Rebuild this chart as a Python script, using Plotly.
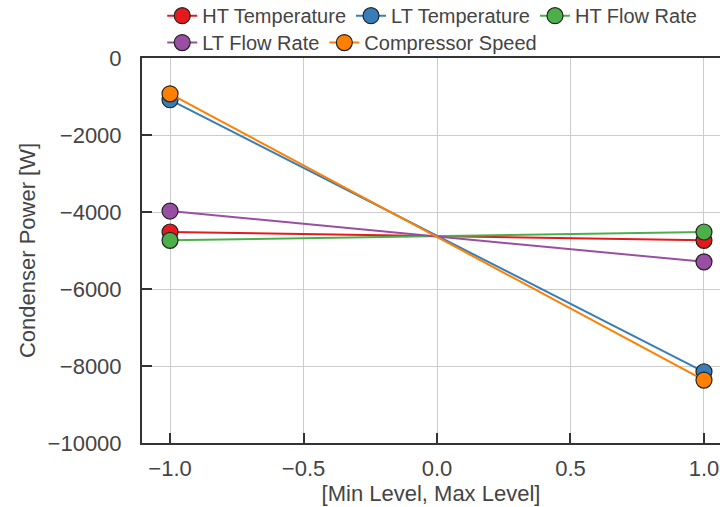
import plotly.graph_objects as go

levels = [-1.0, 1.0]
series_names = ["HT Temperature", "LT Temperature", "HT Flow Rate", "LT Flow Rate", "Compressor Speed"]
ht_temperature = [-4520, -4735]
lt_temperature = [-1085, -8150]
ht_flow_rate = [-4735, -4520]
lt_flow_rate = [-3975, -5295]
compressor_speed = [-930, -8365]
series_values = [ht_temperature, lt_temperature, ht_flow_rate, lt_flow_rate, compressor_speed]
colors = ["#e41a1c", "#377eb8", "#4daf4a", "#984ea3", "#ff7f00"]
legend_ids = ["legend", "legend", "legend", "legend2", "legend2"]
y_ticks = [0, -2000, -4000, -6000, -8000, -10000]
x_ticks = [-1.0, -0.5, 0.0, 0.5, 1.0]
x_tick_labels = ["\u22121.0", "\u22120.5", "0.0", "0.5", "1.0"]
y_tick_labels = ["0", "\u22122000", "\u22124000", "\u22126000", "\u22128000", "\u221210000"]

FONT = "Liberation Sans, Arial, sans-serif"
TXT = "#444444"
AX = 22
LEG = 20

fig = go.Figure()
for name, vals, col, lg in zip(series_names, series_values, colors, legend_ids):
    fig.add_trace(go.Scatter(
        x=levels, y=vals, name=name, mode="lines+markers",
        line=dict(color=col, width=2),
        marker=dict(color=col, size=16, line=dict(color="#222222", width=1.2)),
        legend=lg,
    ))

fig.update_layout(
    width=720, height=507,
    margin=dict(l=142, r=0, t=58, b=64, pad=0, autoexpand=False),
    paper_bgcolor="white", plot_bgcolor="white",
    font=dict(family=FONT, size=AX, color=TXT),
    legend=dict(orientation="h", x=0.035, xanchor="left", y=1.11, yanchor="middle",
                font=dict(family=FONT, size=LEG, color=TXT), bgcolor="rgba(0,0,0,0)",
                itemwidth=30, tracegroupgap=0),
    legend2=dict(orientation="h", x=0.035, xanchor="left", y=1.04, yanchor="middle",
                 font=dict(family=FONT, size=LEG, color=TXT), bgcolor="rgba(0,0,0,0)",
                 itemwidth=30, tracegroupgap=0),
    xaxis=dict(
        range=[-1.105, 1.06], tickmode="array", tickvals=x_ticks, ticktext=x_tick_labels,
        ticks="inside", ticklen=10, tickcolor="#333333", tickwidth=1.5,
        showline=True, linecolor="#333333", linewidth=2, mirror=True,
        showgrid=True, gridcolor="#cccccc", gridwidth=1, zeroline=False,
        ticklabelstandoff=5, automargin=False,
        title=dict(text="[Min Level, Max Level]", font=dict(size=AX, color=TXT), standoff=2),
        tickfont=dict(size=AX, color=TXT),
    ),
    yaxis=dict(
        range=[-10000, 0], tickmode="array", tickvals=y_ticks, ticktext=y_tick_labels,
        ticks="inside", ticklen=10, tickcolor="#333333", tickwidth=1.5,
        showline=True, linecolor="#333333", linewidth=2, mirror=False,
        showgrid=True, gridcolor="#cccccc", gridwidth=1, zeroline=False,
        ticklabelstandoff=14, automargin=False,
        title=dict(text="Condenser Power [W]", font=dict(size=AX, color=TXT), standoff=6),
        tickfont=dict(size=AX, color=TXT),
    ),
)

fig.write_html("out.html")
